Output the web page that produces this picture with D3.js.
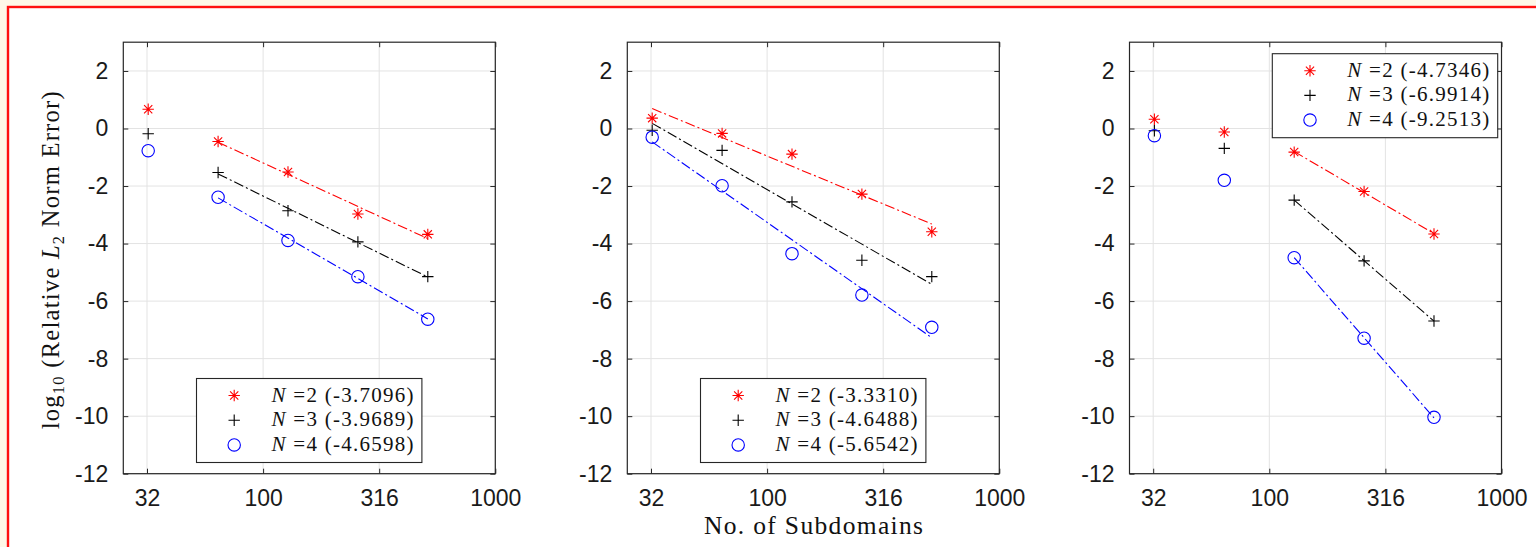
<!DOCTYPE html>
<html>
<head>
<meta charset="utf-8">
<script src="https://cdn.jsdelivr.net/npm/d3@7"></script>
<style>
  html, body { margin: 0; padding: 0; background: #fff8e8; }
  svg { display: block; }
</style>
</head>
<body>
<svg id="fig" width="1536" height="547"></svg>
<script>
// Number of subdomains used in every study
const subdomains = [32, 64, 128, 256, 512];

// x-axis ticks (half-decade steps) and their printed labels
const xTickValues = [Math.pow(10, 1.5), 100, Math.pow(10, 2.5), 1000];
const xTickLabels = ["32", "100", "316", "1000"];
const yTickValues = [2, 0, -2, -4, -6, -8, -10, -12];

// Series order: N = 2, 3, 4
const orders = [2, 3, 4];

// Study (a)
const errA_N2 = [0.67, -0.45, -1.51, -2.97, -3.68];
const errA_N3 = [-0.18, -1.53, -2.86, -3.94, -5.15];
const errA_N4 = [-0.77, -2.39, -3.89, -5.15, -6.63];
const slopesA = [-3.7096, -3.9689, -4.6598];
const fitFromA = 64;

// Study (b)
const errB_N2 = [0.36, -0.17, -0.89, -2.28, -3.59];
const errB_N3 = [-0.06, -0.76, -2.55, -4.58, -5.15];
const errB_N4 = [-0.30, -1.99, -4.35, -5.79, -6.91];
const slopesB = [-3.3310, -4.6488, -5.6542];
const fitFromB = 32;

// Study (c)
const errC_N2 = [0.32, -0.12, -0.82, -2.19, -3.67];
const errC_N3 = [-0.08, -0.69, -2.49, -4.60, -6.69];
const errC_N4 = [-0.25, -1.80, -4.49, -7.29, -10.04];
const slopesC = [-4.7346, -6.9914, -9.2513];
const fitFromC = 128;

const panels = [
  { series: [errA_N2, errA_N3, errA_N4], slopes: slopesA, fitFrom: fitFromA,
    left: 123.3, legend: { x: 196.5, y: 378.5 } },
  { series: [errB_N2, errB_N3, errB_N4], slopes: slopesB, fitFrom: fitFromB,
    left: 627.3, legend: { x: 700.5, y: 378.5 } },
  { series: [errC_N2, errC_N3, errC_N4], slopes: slopesC, fitFrom: fitFromC,
    left: 1129.5, legend: { x: 1272.3, y: 53.7 } }
];

const colors = ["#ff0000", "#000000", "#0000ff"];
const symbols = ["asterisk", "plus", "circle"];
const plotW = 372, plotTop = 42.2, plotH = 431.5;
const axisColor = "#262626", gridColor = "#e3e3e3";
const serif = "'Liberation Serif', 'Times New Roman', serif";
const sans = "'Liberation Sans', Arial, Helvetica, sans-serif";

const svg = d3.select("#fig");

// page frame
svg.append("rect").attr("x", 8).attr("y", 7).attr("width", 1600).attr("height", 600)
  .attr("fill", "#ffffff").attr("stroke", "#ff1010").attr("stroke-width", 2.4);

function drawMarker(g, kind, cx, cy, color) {
  const s = 5.7;
  if (kind === "circle") {
    g.append("circle").attr("cx", cx).attr("cy", cy).attr("r", 6.2)
      .attr("fill", "none").attr("stroke", color).attr("stroke-width", 1.1);
  } else {
    const p = d3.path();
    p.moveTo(cx - s, cy); p.lineTo(cx + s, cy);
    p.moveTo(cx, cy - s); p.lineTo(cx, cy + s);
    if (kind === "asterisk") {
      const d = s * 0.72;
      p.moveTo(cx - d, cy - d); p.lineTo(cx + d, cy + d);
      p.moveTo(cx - d, cy + d); p.lineTo(cx + d, cy - d);
    }
    g.append("path").attr("d", p.toString()).attr("fill", "none")
      .attr("stroke", color).attr("stroke-width", 1.1);
  }
}

// least-squares intercept for a line of given slope in log10(x)
function fitLine(xs, ys, slope) {
  const lx = xs.map(v => Math.log10(v));
  const mx = d3.mean(lx), my = d3.mean(ys);
  return v => my + slope * (Math.log10(v) - mx);
}

panels.forEach(panel => {
  const x = d3.scaleLog().domain([25, 1000]).range([panel.left, panel.left + plotW]);
  const y = d3.scaleLinear().domain([-12, 3]).range([plotTop + plotH, plotTop]);
  const g = svg.append("g");

  // grid
  g.append("g").selectAll("line").data(xTickValues).join("line")
    .attr("x1", d => x(d)).attr("x2", d => x(d))
    .attr("y1", plotTop).attr("y2", plotTop + plotH)
    .attr("stroke", gridColor).attr("stroke-width", 1);
  g.append("g").selectAll("line").data(yTickValues).join("line")
    .attr("x1", panel.left).attr("x2", panel.left + plotW)
    .attr("y1", d => y(d)).attr("y2", d => y(d))
    .attr("stroke", gridColor).attr("stroke-width", 1);

  // fitted convergence lines
  panel.series.forEach((vals, i) => {
    const idx = subdomains.map((s, k) => k).filter(k => subdomains[k] >= panel.fitFrom);
    const xs = idx.map(k => subdomains[k]);
    const ys = idx.map(k => vals[k]);
    const f = fitLine(xs, ys, panel.slopes[i]);
    const x0 = xs[0], x1 = xs[xs.length - 1];
    g.append("line")
      .attr("x1", x(x0)).attr("y1", y(f(x0)))
      .attr("x2", x(x1)).attr("y2", y(f(x1)))
      .attr("stroke", colors[i]).attr("stroke-width", 1.1)
      .attr("stroke-dasharray", "10,3,2,3");
  });

  // data markers
  panel.series.forEach((vals, i) => {
    vals.forEach((v, k) => drawMarker(g, symbols[i], x(subdomains[k]), y(v), colors[i]));
  });

  // axes with inward ticks
  const fmt = (d) => xTickLabels[xTickValues.indexOf(d)];
  const ax = [
    g.append("g").attr("transform", `translate(0,${plotTop + plotH})`)
      .call(d3.axisBottom(x).tickValues(xTickValues).tickFormat(fmt).tickSize(-5).tickPadding(16)),
    g.append("g").attr("transform", `translate(0,${plotTop})`)
      .call(d3.axisTop(x).tickValues(xTickValues).tickFormat("").tickSize(-5)),
    g.append("g").attr("transform", `translate(${panel.left},0)`)
      .call(d3.axisLeft(y).tickValues(yTickValues).tickFormat(d3.format("d")).tickSize(-5).tickPadding(15)),
    g.append("g").attr("transform", `translate(${panel.left + plotW},0)`)
      .call(d3.axisRight(y).tickValues(yTickValues).tickFormat("").tickSize(-5))
  ];
  ax.forEach(a => {
    a.select(".domain").remove();
    a.selectAll(".tick line").attr("stroke", axisColor).attr("stroke-width", 1);
    a.selectAll("text").attr("fill", "#1a1a1a").style("font-family", sans).style("font-size", "23px");
  });
  // y labels use a plain hyphen-minus
  ax[2].selectAll("text").text(d => String(d));

  g.append("rect").attr("x", panel.left).attr("y", plotTop)
    .attr("width", plotW).attr("height", plotH)
    .attr("fill", "none").attr("stroke", axisColor).attr("stroke-width", 1.2);

  // legend
  const L = panel.legend;
  const lg = svg.append("g");
  lg.append("rect").attr("x", L.x).attr("y", L.y).attr("width", 225.4).attr("height", 84)
    .attr("fill", "#ffffff").attr("stroke", axisColor).attr("stroke-width", 1.1);
  orders.forEach((n, i) => {
    const cy = L.y + 17 + i * 24.7;
    drawMarker(lg, symbols[i], L.x + 37.7, cy, colors[i]);
    const t = lg.append("text").attr("x", L.x + 75).attr("y", cy + 6)
      .attr("textLength", 142).attr("lengthAdjust", "spacing")
      .style("font-family", serif).style("font-size", "21px").attr("fill", "#111");
    t.append("tspan").style("font-style", "italic").text("N");
    t.append("tspan").text(` =${n} (${panel.slopes[i].toFixed(4)})`);
  });
});

// axis titles
const yl = svg.append("text")
  .attr("transform", "translate(58.5,260.3) rotate(-90)")
  .attr("text-anchor", "middle").attr("textLength", 338).attr("lengthAdjust", "spacing")
  .style("font-family", serif).style("font-size", "24.5px").attr("fill", "#111");
yl.append("tspan").text("log");
yl.append("tspan").attr("dy", 5).style("font-size", "16.5px").text("10");
yl.append("tspan").attr("dy", -5).text(" (Relative ");
yl.append("tspan").style("font-style", "italic").text("L");
yl.append("tspan").attr("dy", 5).style("font-size", "16.5px").text("2");
yl.append("tspan").attr("dy", -5).text(" Norm Error)");

svg.append("text").attr("x", 813.5).attr("y", 533.5)
  .attr("text-anchor", "middle").attr("textLength", 219).attr("lengthAdjust", "spacing")
  .style("font-family", serif).style("font-size", "25.5px").attr("fill", "#111")
  .text("No.  of Subdomains");
</script>
</body>
</html>
